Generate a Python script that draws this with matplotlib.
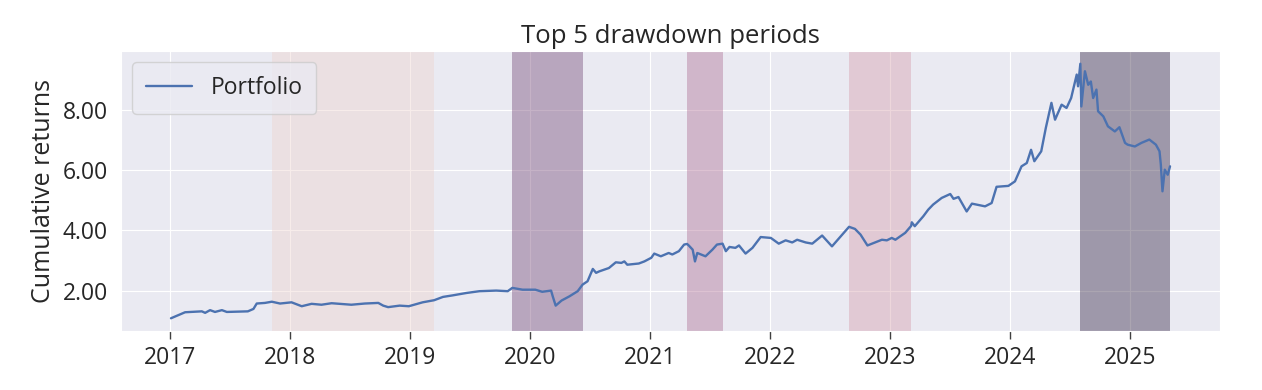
import matplotlib
matplotlib.use("Agg")
import matplotlib.pyplot as plt
import matplotlib.dates as mdates
from matplotlib.ticker import FuncFormatter
import pandas as pd
import seaborn as sns

# ---- data ----
dates = [
    "2017-01-03", "2017-02-15", "2017-04-07", "2017-04-17", "2017-05-02", "2017-05-17",
    "2017-06-07", "2017-06-22", "2017-08-25", "2017-09-11", "2017-09-21", "2017-10-16",
    "2017-11-06", "2017-12-01", "2018-01-05", "2018-02-05", "2018-03-07", "2018-04-06",
    "2018-05-07", "2018-07-06", "2018-08-16", "2018-09-26", "2018-10-11", "2018-10-26",
    "2018-11-30", "2018-12-28", "2019-02-08", "2019-03-15", "2019-04-11", "2019-05-10",
    "2019-06-21", "2019-07-31", "2019-09-20", "2019-10-25", "2019-11-08", "2019-12-09",
    "2020-01-17", "2020-02-07", "2020-03-05", "2020-03-10", "2020-03-19", "2020-04-06",
    "2020-04-30", "2020-05-25", "2020-06-09", "2020-06-24", "2020-07-10", "2020-07-20",
    "2020-07-30", "2020-08-28", "2020-09-18", "2020-10-05", "2020-10-14", "2020-10-23",
    "2020-11-27", "2020-12-14", "2021-01-04", "2021-01-13", "2021-02-02", "2021-02-26",
    "2021-03-09", "2021-03-29", "2021-04-14", "2021-04-23", "2021-04-28", "2021-05-10",
    "2021-05-17", "2021-05-24", "2021-06-18", "2021-07-09", "2021-07-23", "2021-08-09",
    "2021-08-19", "2021-08-30", "2021-09-17", "2021-09-28", "2021-10-18", "2021-11-08",
    "2021-12-03", "2022-01-03", "2022-01-27", "2022-02-17", "2022-03-09", "2022-03-24",
    "2022-04-19", "2022-05-09", "2022-06-08", "2022-07-08", "2022-08-29", "2022-09-16",
    "2022-10-03", "2022-10-24", "2022-12-07", "2022-12-22", "2023-01-06", "2023-01-17",
    "2023-02-16", "2023-03-06", "2023-03-08", "2023-03-17", "2023-04-12", "2023-04-27",
    "2023-05-12", "2023-06-07", "2023-07-03", "2023-07-13", "2023-07-28", "2023-08-22",
    "2023-09-07", "2023-10-17", "2023-11-06", "2023-11-21", "2023-12-27", "2024-01-16",
    "2024-02-05", "2024-02-21", "2024-03-05", "2024-03-15", "2024-04-05", "2024-04-19",
    "2024-05-06", "2024-05-17", "2024-06-06", "2024-06-21", "2024-07-05", "2024-07-22",
    "2024-07-26", "2024-08-02", "2024-08-05", "2024-08-16", "2024-08-26", "2024-09-03",
    "2024-09-10", "2024-09-20", "2024-09-25", "2024-10-11", "2024-10-25", "2024-11-15",
    "2024-11-29", "2024-12-16", "2024-12-24", "2025-01-15", "2025-02-04", "2025-02-28",
    "2025-03-20", "2025-03-31", "2025-04-04", "2025-04-09", "2025-04-16", "2025-04-25",
    "2025-05-02",
]
cum_returns = [
    1.08, 1.28, 1.31, 1.26, 1.35, 1.29,
    1.35, 1.29, 1.31, 1.39, 1.57, 1.59,
    1.63, 1.57, 1.61, 1.48, 1.56, 1.53,
    1.58, 1.53, 1.57, 1.59, 1.50, 1.45,
    1.50, 1.48, 1.61, 1.68, 1.79, 1.84,
    1.92, 1.98, 2.00, 1.98, 2.09, 2.03,
    2.03, 1.96, 2.00, 1.81, 1.50, 1.67,
    1.81, 1.98, 2.20, 2.31, 2.72, 2.59,
    2.64, 2.75, 2.94, 2.92, 2.97, 2.86,
    2.90, 2.97, 3.09, 3.23, 3.14, 3.25,
    3.20, 3.31, 3.53, 3.55, 3.50, 3.36,
    2.97, 3.25, 3.14, 3.36, 3.53, 3.56,
    3.31, 3.45, 3.42, 3.50, 3.23, 3.42,
    3.78, 3.75, 3.56, 3.67, 3.60, 3.69,
    3.60, 3.56, 3.83, 3.47, 4.12, 4.05,
    3.86, 3.50, 3.69, 3.67, 3.75, 3.69,
    3.92, 4.15, 4.27, 4.14, 4.47, 4.69,
    4.86, 5.08, 5.21, 5.05, 5.11, 4.63,
    4.89, 4.80, 4.91, 5.45, 5.48, 5.63,
    6.13, 6.24, 6.68, 6.30, 6.63, 7.41,
    8.24, 7.68, 8.18, 8.07, 8.40, 9.18,
    8.79, 9.54, 8.12, 9.29, 8.84, 8.95,
    8.40, 8.68, 7.96, 7.79, 7.46, 7.29,
    7.43, 6.91, 6.85, 6.79, 6.91, 7.02,
    6.85, 6.63, 6.19, 5.30, 6.02, 5.85,
    6.13,
]
# Top 5 drawdowns (ranked), peak and recovery dates (None = not recovered)
peak_dates = ["2024-08-02", "2019-11-08", "2021-04-23", "2022-08-29", "2017-11-06"]
recovery_dates = [None, "2020-06-09", "2021-08-09", "2023-03-06", "2019-03-15"]

title = "Top 5 drawdown periods"
ylabel = "Cumulative returns"
legend_label = "Portfolio"

# ---- style ----
sns.set_style("darkgrid")
plt.rcParams["font.family"] = ["Open Sans", "DejaVu Sans"]
plt.rcParams["text.color"] = ".15"
plt.rcParams["axes.labelcolor"] = ".15"
plt.rcParams["xtick.color"] = ".15"
plt.rcParams["ytick.color"] = ".15"

series = pd.Series(cum_returns, index=pd.to_datetime(dates))

fig = plt.figure(figsize=(12.62, 3.90), dpi=100)
ax = fig.add_axes([0.0959, 0.1513, 0.8708, 0.7179])

ax.plot(series.index, series.values, color="#4c72b0", lw=1.7, label=legend_label)

lim = ax.get_ylim()
colors = sns.cubehelix_palette(len(peak_dates))[::-1]
for i, (pk, rc) in enumerate(zip(peak_dates, recovery_dates)):
    start = pd.Timestamp(pk)
    end = series.index[-1] if rc is None else pd.Timestamp(rc)
    ax.fill_between([start, end], lim[0], lim[1], alpha=0.4, color=colors[i], lw=0)
ax.set_ylim(lim)

ax.xaxis.set_major_locator(mdates.YearLocator())
ax.xaxis.set_major_formatter(mdates.DateFormatter("%Y"))
ax.yaxis.set_major_formatter(FuncFormatter(lambda v, p: f"{v:.2f}"))
ax.tick_params(axis="x", bottom=True, length=6, width=1, color=".25", labelsize=16.5, pad=5)
ax.tick_params(axis="y", left=False, labelsize=16.5, pad=6)

ax.set_title(title, fontsize=18.5, pad=6)
ax.set_ylabel(ylabel, fontsize=18, labelpad=5)
ax.set_xlabel("")
ax.legend(loc="upper left", fontsize=16.5, frameon=True, borderpad=0.6)

fig.savefig("out.png", dpi=100)
